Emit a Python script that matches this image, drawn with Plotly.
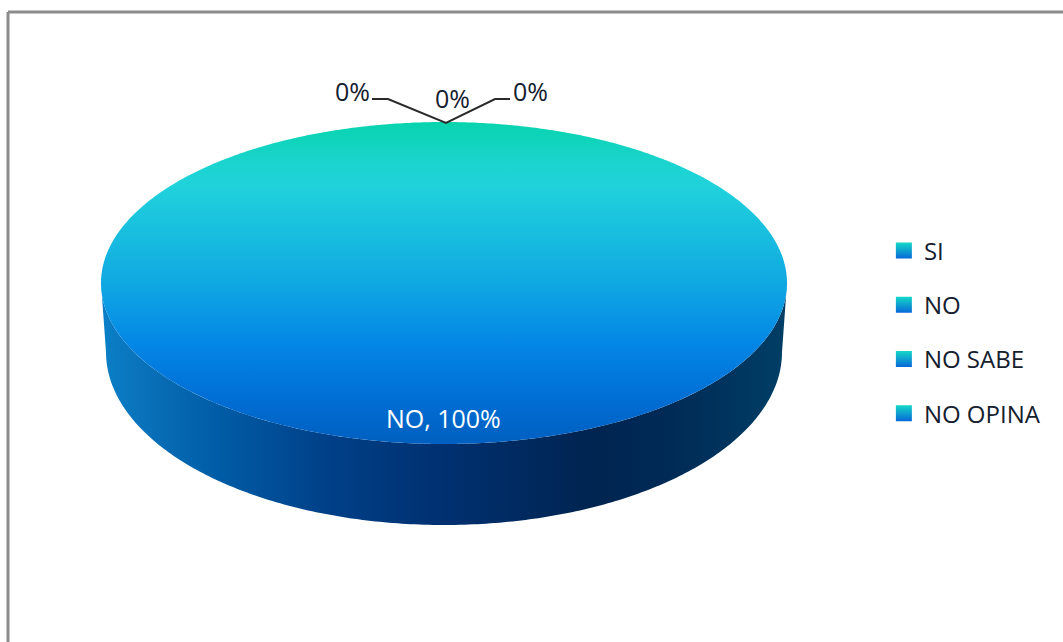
import numpy as np
import plotly.graph_objects as go

categories = ["SI", "NO", "NO SABE", "NO OPINA"]
values = [0, 100, 0, 0]

# pie geometry, in page pixels
CX, CY, RX, RY = 444, 283, 343, 161
BOTTOM_CY, BOTTOM_RX, BOTTOM_RY = 352, 338, 173
FONT = "Open Sans"
TEXT = "#14202e"

TOP_SCALE = [[0, "#07d3ae"], [0.12, "#1ad4cc"], [0.2, "#20d2dc"], [0.5, "#10a8e2"],
             [0.68, "#0488e6"], [0.85, "#006fd6"], [1, "#005fc0"]]
SIDE_SCALE = [[0, "#0a80c8"], [0.05, "#0a74bc"], [0.17, "#005ca6"], [0.33, "#004088"],
              [0.5, "#003070"], [0.72, "#002450"], [0.85, "#002c58"], [1, "#003f66"]]

fig = go.Figure()

# side wall: the part of the rim that faces the viewer
t = np.linspace(0, np.pi, 240)
fig.add_trace(go.Scatter(
    x=np.concatenate([CX + RX * np.cos(t), CX + BOTTOM_RX * np.cos(t[::-1])]),
    y=np.concatenate([CY + RY * np.sin(t), BOTTOM_CY + BOTTOM_RY * np.sin(t[::-1])]),
    mode="none", fill="toself", showlegend=False, hoverinfo="skip",
    fillgradient=dict(type="horizontal", colorscale=SIDE_SCALE, start=CX - RX, stop=CX + RX),
))

# top face: one wedge per category, clockwise from 12 o'clock
total = sum(values)
start = 0.0
label_text = []
for name, v in zip(categories, values):
    sweep = 2 * np.pi * v / total
    pct = round(100 * v / total)
    label_text.append(f"{pct}%" if v == 0 else f"{name}, {pct}%")
    if v > 0:
        a = np.linspace(start, start + sweep, 721)
        fig.add_trace(go.Scatter(
            x=CX + RX * np.sin(a), y=CY - RY * np.cos(a),
            mode="none", fill="toself", name=name, showlegend=False,
            hovertemplate=f"{name}: {pct}%<extra></extra>",
            fillgradient=dict(type="vertical", colorscale=TOP_SCALE, start=CY - RY, stop=CY + RY),
        ))
    start += sweep

# leader lines for the zero-sized slices
fig.add_trace(go.Scatter(
    x=[372, 388, 446, 495, 510], y=[99, 99, 123, 99, 99],
    mode="lines", line=dict(color="#2a2a2a", width=2),
    showlegend=False, hoverinfo="skip",
))

# legend entries
for i, name in enumerate(categories):
    fig.add_trace(go.Scatter(
        x=[None], y=[None], mode="markers", name=name, legendgroup=name,
        marker=dict(symbol="square", size=16, color="#14d8c8",
                    gradient=dict(type="vertical", color="#0868d8")),
    ))

# slice labels
label_pos = [(352, 91), (443, 418), (452, 98), (530, 91)]
for (x, y), s, v in zip(label_pos, label_text, values):
    fig.add_annotation(x=x, y=y, text=s, showarrow=False, xref="x", yref="y",
                       font=dict(family=FONT, size=25, color="#ffffff" if v else TEXT))

# picture frame
for (x0, y0, x1, y1) in [(8, 12, 1063, 12), (8, 12, 8, 642)]:
    fig.add_shape(type="line", x0=x0, y0=y0, x1=x1, y1=y1, xref="x", yref="y",
                  line=dict(color="#8c8c8c", width=3))

fig.update_layout(
    width=1063, height=642, margin=dict(l=0, r=0, t=0, b=0),
    paper_bgcolor="white", plot_bgcolor="white",
    xaxis=dict(range=[0, 1063], visible=False, fixedrange=True),
    yaxis=dict(range=[642, 0], visible=False, fixedrange=True),
    font=dict(family=FONT, size=24, color=TEXT),
    legend=dict(x=0.8315, y=0.6441, xanchor="left", yanchor="top", tracegroupgap=20,
                bgcolor="rgba(0,0,0,0)", itemwidth=30),
)

fig.write_html("out.html", config={"displayModeBar": False},
               post_script="document.body.style.margin='0';document.body.style.overflow='hidden';")
